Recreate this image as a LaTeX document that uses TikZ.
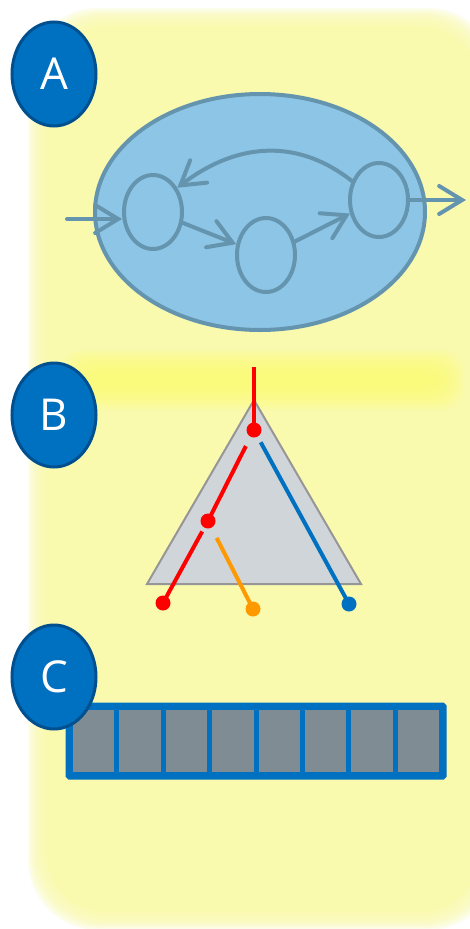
\documentclass[tikz,border=0pt]{standalone}
\usepackage{fontspec}
\setmainfont{Open Sans}
\usetikzlibrary{arrows.meta,shapes.geometric}
\definecolor{bgyel}{RGB}{250,250,175}
\definecolor{glowyel}{RGB}{250,250,115}
\definecolor{badge}{RGB}{0,112,192}
\definecolor{badgeline}{RGB}{0,80,143}
\definecolor{fsmfill}{RGB}{141,197,230}
\definecolor{fsmline}{RGB}{101,149,174}
\definecolor{trifill}{RGB}{208,213,218}
\definecolor{trilinec}{RGB}{150,150,150}
\definecolor{cellfill}{RGB}{127,140,147}
\definecolor{treered}{RGB}{255,0,0}
\definecolor{treeblue}{RGB}{0,112,192}
\definecolor{treeorange}{RGB}{255,153,0}
\tikzset{
  badgestyle/.style={ellipse, draw=badgeline, line width=3pt, fill=badge,
    minimum width=84pt, minimum height=104pt, inner sep=0pt,
    text=white, font=\fontsize{44}{44}\selectfont},
  state/.style={ellipse, draw=fsmline, line width=4pt, minimum width=58pt,
    minimum height=74pt, inner sep=0pt},
  fsmarrow/.style={draw=fsmline, line width=4pt, line cap=round,
    -{Straight Barb[length=23pt,width=28pt,line cap=round]}},
  dot/.style={circle, inner sep=0pt, minimum size=15pt},
  branch/.style={line width=4pt},
  cell/.style={rectangle, draw=treeblue, line width=5pt, fill=cellfill,
    minimum width=46.4pt, minimum height=67pt, inner sep=0pt}
}
\begin{document}
\begin{tikzpicture}[x=1pt,y=-1pt]
\useasboundingbox (0,0) rectangle (470,929);
\fill[white] (0,0) rectangle (470,929);
% soft yellow background
\foreach \i in {0,...,9}{
  \fill[bgyel, opacity=0.22, rounded corners=70pt]
    (28+1.8*\i, 8+1.8*\i) rectangle (498-1.8*\i, 930-1.8*\i);
}
\fill[bgyel, rounded corners=60pt] (46,26) rectangle (480,912);
% glow band
\foreach \i in {0,...,9}{
  \fill[glowyel, opacity=0.15, rounded corners=22pt]
    (60+3*\i, 350+2.6*\i) rectangle (464-3*\i, 410-2.6*\i);
}
% ---------- A ----------
\node[ellipse, draw=fsmline, line width=4pt, fill=fsmfill,
  minimum width=330pt, minimum height=236pt] (big) at (260,212) {};
\node[state] (s1) at (153,212) {};
\node[state] (s2) at (266,255) {};
\node[state] (s3) at (379,200) {};
\coordinate (in1) at (67,219);
\coordinate (out1) at (466,200);
\draw[fsmarrow] (in1) -- (s1.west |- in1);
\draw[fsmarrow] (s1.-20) -- (s2.160);
\draw[fsmarrow] (s2.25) -- (s3.205);
\draw[fsmarrow] (s3.145) .. controls (300,140) and (240,140) .. (s1.45);
\draw[fsmarrow] (s3.east) -- (out1);
\node[badgestyle] (A) at (54,74) {A};
% ---------- B ----------
\coordinate (tA) at (254,400);
\coordinate (tL) at (147,584);
\coordinate (tR) at (361,584);
\fill[trifill] (tA) -- (tL) -- (tR) -- cycle;
\draw[trilinec, line width=2pt, line join=miter] (tA) -- (tL) -- (tR) -- cycle;
\coordinate (top) at (254,367);
\node[dot, fill=treered] (d0) at (254,430) {};
\node[dot, fill=treered] (d1) at (208,521) {};
\node[dot, fill=treered] (d2) at (163,603) {};
\node[dot, fill=treeorange] (d3) at (253,609) {};
\node[dot, fill=treeblue] (d4) at (349,604) {};
\draw[branch, treered] (top) -- (d0.center);
\draw[branch, treered, shorten <=18pt] (d0.center) -- (d1.center);
\draw[branch, treered, shorten <=12pt] (d1.center) -- (d2.center);
\draw[branch, treeorange, shorten <=19pt] (d1.center) -- (d3.center);
\draw[branch, treeblue, shorten <=14pt] (d0.center) -- (d4.center);
\node[badgestyle] (B) at (54,415) {B};
% ---------- C ----------
\foreach \i in {0,...,7}{
  \node[cell] (c\i) at (70.5+23.2+46.4*\i, 741) {};
}
\draw[treeblue, line width=5pt, rounded corners=1.5pt] (c0.north west) rectangle (c7.south east);
\node[badgestyle] (C) at (54,677) {C};
\end{tikzpicture}
\end{document}
